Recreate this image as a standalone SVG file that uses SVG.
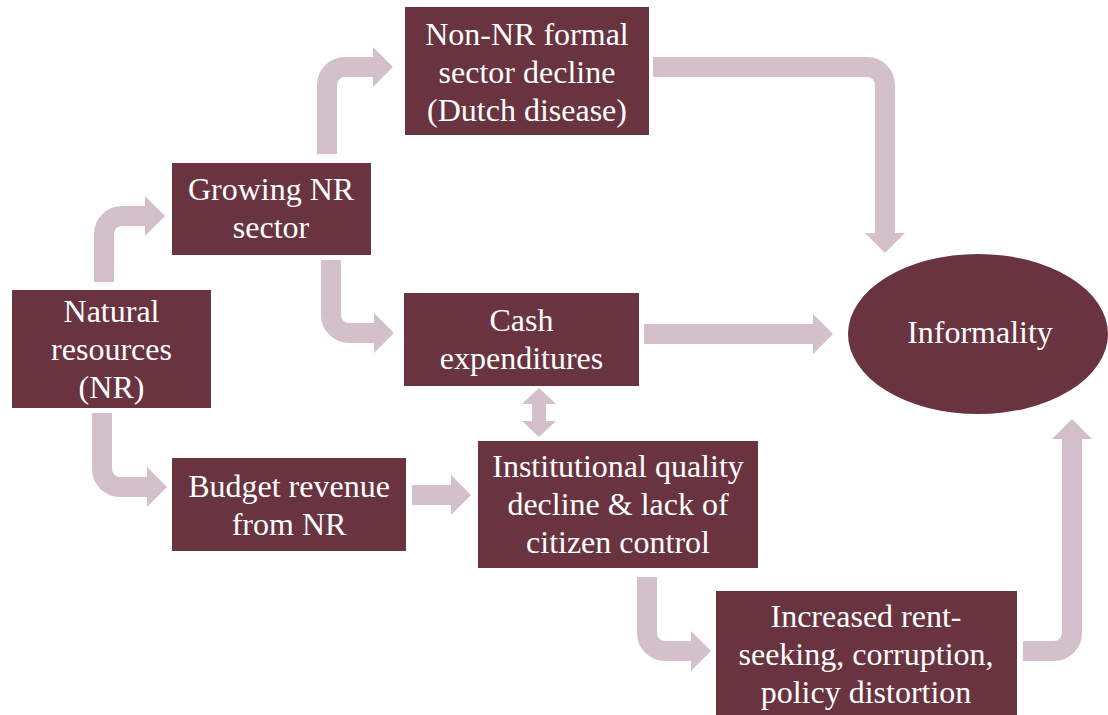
<svg xmlns="http://www.w3.org/2000/svg" width="1108" height="715" viewBox="0 0 1108 715">
<defs>
<style>
.box{fill:#69343f;}
.t{font-family:"Liberation Serif","Times New Roman",serif;font-size:32px;fill:#ffffff;text-anchor:middle;}
.c{fill:none;stroke:#d3c0cb;stroke-width:20;stroke-linecap:butt;}
.dbl{fill:#d3c0cb;stroke:none;}
</style>
<marker id="ah" markerUnits="userSpaceOnUse" markerWidth="20" markerHeight="40" refX="0" refY="20" orient="auto" overflow="visible">
<path d="M0,0 L20,20 L0,40 Z" fill="#d3c0cb"/>
</marker>
</defs>
<rect width="1108" height="715" fill="#ffffff"/>
<g id="connectors">
<path class="c" marker-end="url(#ah)" d="M104,282 V234 A18,18 0 0 1 122,216 H145"/>
<path class="c" marker-end="url(#ah)" d="M327,154 V85 A18,18 0 0 1 345,67 H373"/>
<path class="c" marker-end="url(#ah)" d="M331,260 V315 A18,18 0 0 0 349,333 H374"/>
<path class="c" marker-end="url(#ah)" d="M653,67 H867 A18,18 0 0 1 885,85 V233"/>
<path class="c" marker-end="url(#ah)" d="M644,334 H813"/>
<path class="c" marker-end="url(#ah)" d="M102,413 V469 A18,18 0 0 0 120,487 H147"/>
<path class="c" marker-end="url(#ah)" d="M412,495 H451"/>
<path class="c" marker-end="url(#ah)" d="M647,577 V633 A18,18 0 0 0 665,651 H691"/>
<path class="c" marker-end="url(#ah)" d="M1023,651 H1054 A18,18 0 0 0 1072,633 V439"/>
<polygon class="dbl" points="539,388 556,404 546,404 546,421 556,421 539,437 522,421 532,421 532,404 522,404"/>
</g>
<g id="nonnr">
<rect class="box" x="405" y="7" width="244" height="128"/>
<text class="t" x="527" y="45">Non-NR formal</text>
<text class="t" x="527" y="83">sector decline</text>
<text class="t" x="527" y="121">(Dutch disease)</text>
</g>
<g id="growing">
<rect class="box" x="172" y="163" width="199" height="92"/>
<text class="t" x="271" y="200">Growing NR</text>
<text class="t" x="271" y="238">sector</text>
</g>
<g id="nr">
<rect class="box" x="12" y="290" width="199" height="118"/>
<text class="t" x="111.5" y="322">Natural</text>
<text class="t" x="111.5" y="360">resources</text>
<text class="t" x="111.5" y="398">(NR)</text>
</g>
<g id="cash">
<rect class="box" x="404" y="293" width="235" height="93"/>
<text class="t" x="521.5" y="331">Cash</text>
<text class="t" x="521.5" y="369">expenditures</text>
</g>
<g id="budget">
<rect class="box" x="172" y="458" width="234" height="93"/>
<text class="t" x="289" y="496.5">Budget revenue</text>
<text class="t" x="289" y="534.5">from NR</text>
</g>
<g id="institutional">
<rect class="box" x="478" y="441" width="280" height="127"/>
<text class="t" x="618" y="477">Institutional quality</text>
<text class="t" x="618" y="515">decline &amp; lack of</text>
<text class="t" x="618" y="553">citizen control</text>
</g>
<g id="rent">
<rect class="box" x="716" y="591" width="301" height="130"/>
<text class="t" x="866" y="627">Increased rent-</text>
<text class="t" x="866" y="665">seeking, corruption,</text>
<text class="t" x="866" y="703">policy distortion</text>
</g>
<g id="informality">
<ellipse class="box" cx="978" cy="334" rx="130" ry="80"/>
<text class="t" x="980" y="343">Informality</text>
</g>
</svg>
